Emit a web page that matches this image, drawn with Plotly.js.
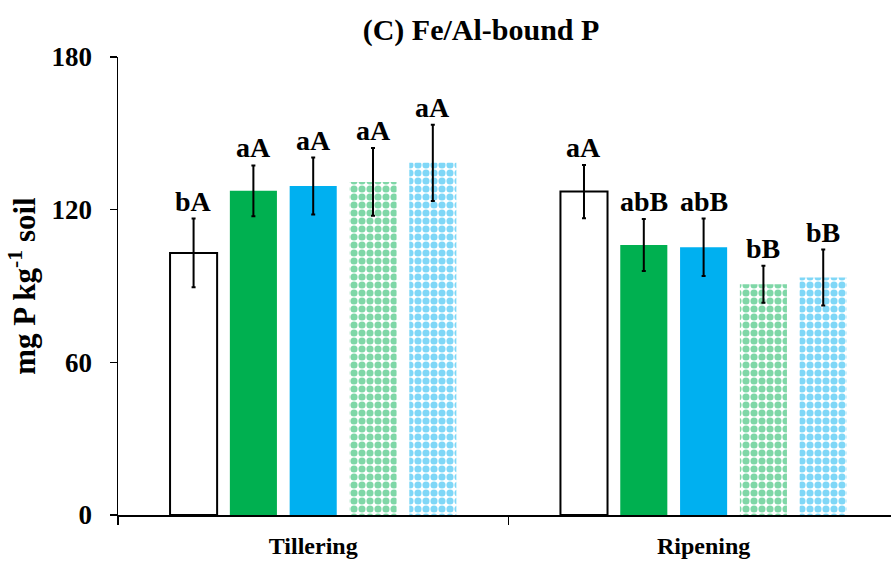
<!DOCTYPE html>
<html>
<head>
<meta charset="utf-8">
<script src="https://cdn.plot.ly/plotly-3.0.1.min.js"></script>
<style>html,body{margin:0;padding:0;background:#fff;}#chart{width:893px;height:570px;}</style>
</head>
<body>
<div id="chart"></div>
<script>
const stages = ["Tillering", "Ripening"];
const seriesNames = ["CK", "T1", "T2", "T3", "T4"];
const means = [
  [103.0, 127.1],
  [127.4, 106.1],
  [129.3, 105.2],
  [130.9, 90.7],
  [138.4, 93.3]
];
const errs = [
  [13.5, 10.5],
  [10.0, 10.2],
  [11.2, 11.3],
  [13.3, 7.3],
  [15.0, 11.0]
];
const letters = [
  ["bA", "aA"],
  ["aA", "abB"],
  ["aA", "abB"],
  ["aA", "bB"],
  ["aA", "bB"]
];

const GREEN = "#00B050", BLUE = "#00B0F0";
const styles = [
  {color: "#ffffff", line: {color: "#000000", width: 2}},
  {color: GREEN, line: {width: 0}},
  {color: BLUE, line: {width: 0}},
  {color: "#ffffff", line: {width: 0}, pattern: {shape: ".", fgcolor: GREEN, bgcolor: "#ffffff", size: 8, solidity: 0.62, fillmode: "overlay"}},
  {color: "#ffffff", line: {width: 0}, pattern: {shape: ".", fgcolor: BLUE, bgcolor: "#ffffff", size: 8, solidity: 0.62, fillmode: "overlay"}}
];

const FONT = "Liberation Serif, Times New Roman, serif";
const traces = seriesNames.map((n, i) => ({
  type: "bar",
  name: n,
  x: stages,
  y: means[i],
  marker: styles[i],
  error_y: {type: "data", array: errs[i], visible: true, color: "#000000", thickness: 2, width: 2},
  showlegend: false,
  offsetgroup: String(i),
  hoverinfo: "skip"
}));

const layout = {
  width: 893, height: 570,
  margin: {l: 118, r: 2, t: 57, b: 55},
  paper_bgcolor: "#ffffff", plot_bgcolor: "#ffffff",
  barmode: "group", bargap: 0.234, bargroupgap: 0.213,
  font: {family: FONT, color: "#000000"},
  title: {text: "(C) Fe/Al-bound P", font: {family: FONT, size: 30, weight: "bold", color: "#000"},
          x: 481/893, xref: "container", xanchor: "center", y: 1 - 29/570, yref: "container", yanchor: "middle"},
  xaxis: {
    type: "category", range: [-0.5, 1.48],
    showline: true, linecolor: "#000", linewidth: 1.5,
    ticks: "outside", tickson: "boundaries", ticklen: 8, tickwidth: 1.5, tickcolor: "#000",
    tickfont: {family: FONT, size: 24, weight: "bold"}, ticklabelstandoff: 9,
    showgrid: false, zeroline: false, fixedrange: true
  },
  yaxis: {
    range: [0, 180], tickvals: [0, 60, 120, 180], ticktext: ["0", "60", "120", "180"],
    showline: true, linecolor: "#000", linewidth: 1.5,
    ticks: "outside", ticklen: 7, tickwidth: 1.5, tickcolor: "#000",
    tickfont: {family: FONT, size: 27, weight: "bold"}, ticklabelstandoff: 12,
    showgrid: false, zeroline: false,
    title: {text: "mg P kg<sup>-1</sup> soil", font: {family: FONT, size: 31, weight: "bold"}, standoff: 6},
    fixedrange: true
  },
  annotations: []
};

// letter annotations aligned to bar positions via the bar geometry
const nS = seriesNames.length;
const groupW = 1 - layout.bargap;
const slot = groupW / nS;
for (let i = 0; i < nS; i++) {
  for (let j = 0; j < stages.length; j++) {
    layout.annotations.push({
      x: j - groupW / 2 + slot * (i + 0.5), xref: "x",
      y: means[i][j] + errs[i][j], yref: "y",
      text: letters[i][j], showarrow: false,
      yanchor: "bottom", xanchor: "center", yshift: 0,
      font: {family: FONT, size: 28, weight: "bold", color: "#000"}
    });
  }
}

Plotly.newPlot("chart", traces, layout, {staticPlot: true, displayModeBar: false});
</script>
</body>
</html>
